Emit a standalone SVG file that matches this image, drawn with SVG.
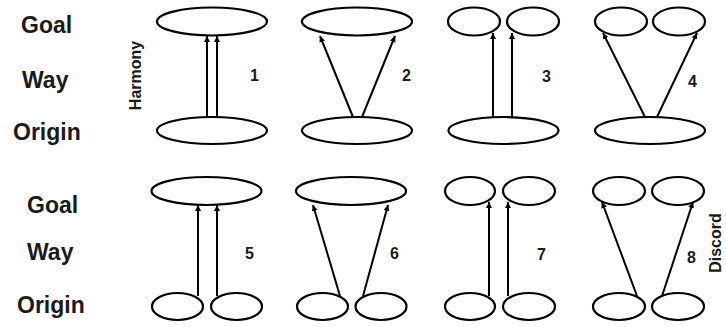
<svg xmlns="http://www.w3.org/2000/svg" width="726" height="327" viewBox="0 0 726 327">
<style>
.lbl{font-family:"Liberation Sans",Arial,sans-serif;font-weight:bold;font-size:23px;fill:#1a1a1a}
.num{font-family:"Liberation Sans",Arial,sans-serif;font-weight:bold;font-size:16px;fill:#1a1a1a}
.side{font-family:"Liberation Sans",Arial,sans-serif;font-weight:bold;font-size:16px;fill:#1a1a1a}
ellipse{fill:#fff;stroke:#000;stroke-width:2.2}
.c line{stroke:#000;stroke-width:2}
</style>
<defs>
<marker id="ah" markerUnits="userSpaceOnUse" markerWidth="7" markerHeight="7" refX="6" refY="3" orient="auto">
<path d="M0,0 L6,3 L0,6 z" fill="#000"/>
</marker>
</defs>
<rect width="726" height="327" fill="#fff"/>
<g id="labels">
<text class="lbl" x="21" y="33">Goal</text>
<text class="lbl" x="22" y="88">Way</text>
<text class="lbl" x="13" y="140">Origin</text>
<text class="lbl" x="27" y="213">Goal</text>
<text class="lbl" x="27" y="260">Way</text>
<text class="lbl" x="17" y="313">Origin</text>
<text class="side" transform="translate(141,75.5) rotate(-90)" text-anchor="middle">Harmony</text>
<text class="side" transform="translate(721,243) rotate(-90)" text-anchor="middle">Discord</text>
</g>
<g id="n1">
<ellipse cx="212" cy="21.5" rx="55" ry="14"/>
<ellipse cx="212" cy="130.5" rx="55" ry="13.5"/>
<text class="num" x="250" y="81">1</text>
</g>
<g id="n2">
<ellipse cx="357" cy="21.5" rx="55" ry="14"/>
<ellipse cx="357" cy="130.5" rx="55" ry="13.5"/>
<text class="num" x="402" y="81">2</text>
</g>
<g id="n3">
<ellipse cx="474" cy="21.5" rx="26" ry="14"/>
<ellipse cx="533" cy="21.5" rx="26" ry="14"/>
<ellipse cx="503.5" cy="130.5" rx="55" ry="13.5"/>
<text class="num" x="542" y="82">3</text>
</g>
<g id="n4">
<ellipse cx="621" cy="21.5" rx="26" ry="14"/>
<ellipse cx="679" cy="21.5" rx="26" ry="14"/>
<ellipse cx="650" cy="130.5" rx="55" ry="13.5"/>
<text class="num" x="688" y="87">4</text>
</g>
<g id="n5">
<ellipse cx="206.5" cy="191" rx="55" ry="14"/>
<ellipse cx="177.5" cy="306.5" rx="25.5" ry="13.5"/>
<ellipse cx="236.5" cy="306.5" rx="25.5" ry="13.5"/>
<text class="num" x="245" y="259">5</text>
</g>
<g id="n6">
<ellipse cx="351" cy="191" rx="55" ry="14"/>
<ellipse cx="322.5" cy="306.5" rx="25.5" ry="13.5"/>
<ellipse cx="381" cy="306.5" rx="25.5" ry="13.5"/>
<text class="num" x="390" y="259">6</text>
</g>
<g id="n7">
<ellipse cx="470" cy="191" rx="25" ry="14"/>
<ellipse cx="529" cy="191" rx="26" ry="14"/>
<ellipse cx="470" cy="306.5" rx="25" ry="13.5"/>
<ellipse cx="529" cy="306.5" rx="26" ry="13.5"/>
<text class="num" x="537" y="260">7</text>
</g>
<g id="n8">
<ellipse cx="619" cy="191" rx="26" ry="14"/>
<ellipse cx="678" cy="191" rx="26" ry="14"/>
<ellipse cx="619" cy="306.5" rx="26" ry="13.5"/>
<ellipse cx="678" cy="306.5" rx="26" ry="13.5"/>
<text class="num" x="687" y="263">8</text>
</g>
<g id="connectors" class="c">
<line x1="207" y1="117" x2="207" y2="36" marker-end="url(#ah)"/>
<line x1="217" y1="117" x2="217" y2="36" marker-end="url(#ah)"/>
<line x1="353" y1="117" x2="320" y2="36" marker-end="url(#ah)"/>
<line x1="362" y1="117" x2="395" y2="36" marker-end="url(#ah)"/>
<line x1="493" y1="117" x2="493" y2="33" marker-end="url(#ah)"/>
<line x1="512" y1="117" x2="512" y2="33" marker-end="url(#ah)"/>
<line x1="645" y1="117" x2="603" y2="33" marker-end="url(#ah)"/>
<line x1="657" y1="117" x2="697" y2="33" marker-end="url(#ah)"/>
<line x1="198" y1="296" x2="198" y2="205" marker-end="url(#ah)"/>
<line x1="217" y1="296" x2="217" y2="205" marker-end="url(#ah)"/>
<line x1="340" y1="296" x2="313" y2="205" marker-end="url(#ah)"/>
<line x1="363" y1="296" x2="388" y2="205" marker-end="url(#ah)"/>
<line x1="489" y1="296" x2="489" y2="202" marker-end="url(#ah)"/>
<line x1="508" y1="296" x2="508" y2="202" marker-end="url(#ah)"/>
<line x1="637" y1="296" x2="602" y2="202" marker-end="url(#ah)"/>
<line x1="662" y1="296" x2="693" y2="202" marker-end="url(#ah)"/>
</g>
</svg>
